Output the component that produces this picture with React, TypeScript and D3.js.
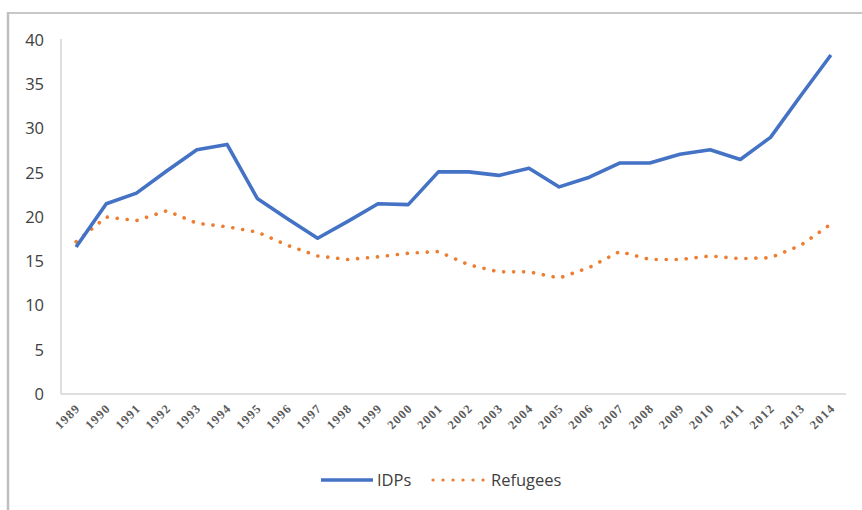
import React from "react";
import * as d3 from "d3";

const years = [
  "1989", "1990", "1991", "1992", "1993", "1994", "1995", "1996", "1997",
  "1998", "1999", "2000", "2001", "2002", "2003", "2004", "2005", "2006",
  "2007", "2008", "2009", "2010", "2011", "2012", "2013", "2014",
];

const idps = [
  16.6, 21.5, 22.7, 25.2, 27.6, 28.2, 22.1, 19.8, 17.6, 19.5, 21.5, 21.4, 25.1,
  25.1, 24.7, 25.5, 23.4, 24.5, 26.1, 26.1, 27.1, 27.6, 26.5, 29.0, 33.7, 38.3,
];

const refugees = [
  17.2, 20.0, 19.6, 20.7, 19.3, 18.9, 18.3, 16.8, 15.6, 15.2, 15.5, 15.9, 16.1,
  14.6, 13.8, 13.8, 13.1, 14.3, 16.1, 15.2, 15.2, 15.6, 15.3, 15.4, 16.8, 19.2,
];

const yTicks = [0, 5, 10, 15, 20, 25, 30, 35, 40];

const W = 862;
const H = 510;
const plot = { left: 61, right: 846, top: 40, bottom: 394 };
const blue = "#4472C4";
const orange = "#ED7D31";
const sans = "'Open Sans', 'Liberation Sans', sans-serif";

export default function App() {
  const x = d3
    .scaleBand<string>()
    .domain(years)
    .range([plot.left, plot.right])
    .paddingInner(0)
    .paddingOuter(0);
  const y = d3.scaleLinear().domain([0, 40]).range([plot.bottom, plot.top]);
  const cx = (yr: string) => (x(yr) as number) + x.bandwidth() / 2;

  const line = d3
    .line<number>()
    .x((_, i) => cx(years[i]))
    .y((d) => y(d));

  return (
    <div style={{ position: "fixed", left: 0, top: 0, width: W, height: H, background: "#fff" }}>
      <svg width={W} height={H} style={{ display: "block" }}>
        <rect width={W} height={H} fill="#fff" />
        {/* chart frame */}
        <line x1={8} x2={W} y1={13} y2={13} stroke="#c8c8c8" strokeWidth={2} />
        <line x1={8} x2={8} y1={12} y2={H} stroke="#c0c0c0" strokeWidth={2.5} />

        {/* axes */}
        <line x1={plot.left} x2={plot.left} y1={plot.top - 1} y2={plot.bottom} stroke="#d4d4d4" strokeWidth={1.5} />
        <line x1={plot.left} x2={plot.right} y1={plot.bottom} y2={plot.bottom} stroke="#d4d4d4" strokeWidth={1.5} />

        {yTicks.map((t) => (
          <text
            key={t}
            x={44}
            y={y(t)}
            dy="0.36em"
            textAnchor="end"
            fontFamily={sans}
            fontSize={16.5}
            fill="#404040"
          >
            {t}
          </text>
        ))}

        {years.map((yr) => {
          const tx = cx(yr) + 5;
          const ty = plot.bottom + 15;
          return (
            <text
              key={yr}
              transform={`translate(${tx},${ty}) rotate(-45)`}
              textAnchor="end"
              fontFamily="'Liberation Serif', 'DejaVu Serif', serif"
              fontSize={12.5}
              fontWeight="bold"
              letterSpacing={1.2}
              fill="#5a5a5a"
            >
              {yr}
            </text>
          );
        })}

        {/* series */}
        <path
          d={line(refugees) || ""}
          fill="none"
          stroke={orange}
          strokeWidth={3.6}
          strokeLinecap="round"
          strokeDasharray="0.1 9.9"
        />
        <path
          d={line(idps) || ""}
          fill="none"
          stroke={blue}
          strokeWidth={3.6}
          strokeLinejoin="round"
        />

        {/* legend */}
        <line x1={321} x2={373} y1={480} y2={480} stroke={blue} strokeWidth={3.6} />
        <text x={377} y={480} dy="0.36em" fontFamily={sans} fontSize={16.5} fill="#404040">
          IDPs
        </text>
        <line
          x1={433}
          x2={487}
          y1={480}
          y2={480}
          stroke={orange}
          strokeWidth={3.2}
          strokeLinecap="round"
          strokeDasharray="0.1 9.9"
        />
        <text x={491} y={480} dy="0.36em" fontFamily={sans} fontSize={16.5} fill="#404040">
          Refugees
        </text>
      </svg>
    </div>
  );
}
